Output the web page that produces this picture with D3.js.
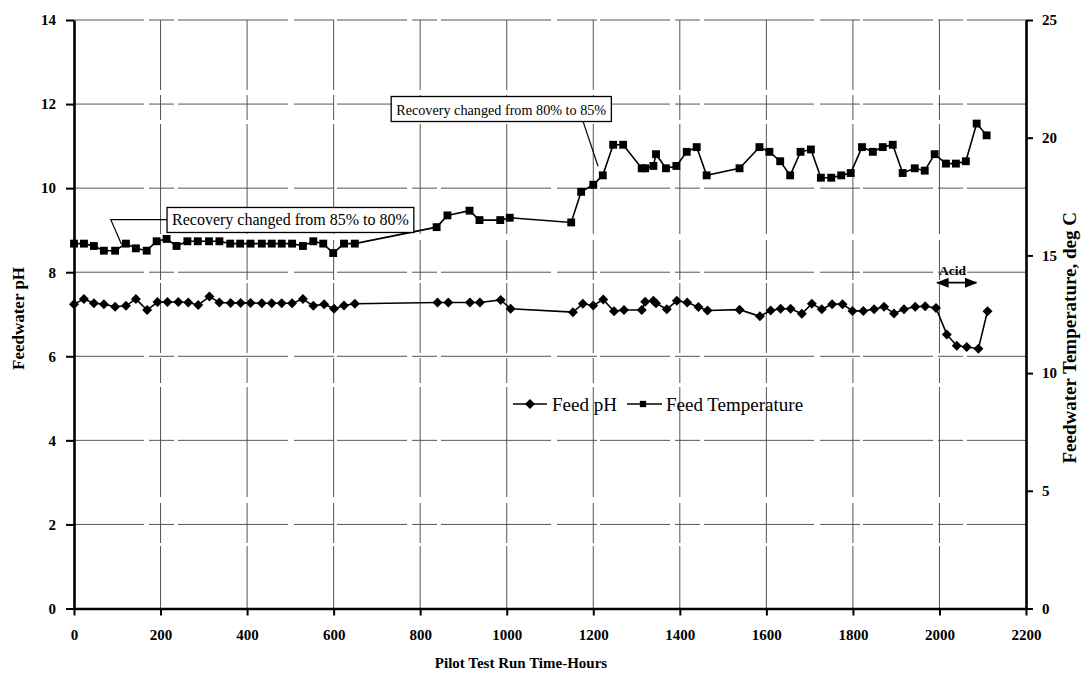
<!DOCTYPE html>
<html>
<head>
<meta charset="utf-8">
<script src="https://cdn.jsdelivr.net/npm/d3@7"></script>
<style>
  body { margin: 0; background: #fff; }
  text { font-family: "Liberation Serif", "Times New Roman", serif; }
</style>
</head>
<body>
<div id="chart"></div>
<script>
// pilot test readings
const phHours = [0, 23, 46, 69, 95, 120, 143, 169, 193, 216, 241, 264, 287, 313, 336, 362, 385, 408, 434, 457,
  480, 504, 529, 553, 578, 601, 624, 649, 840, 865, 915, 938, 986, 1009, 1153, 1176, 1200, 1223, 1248, 1271,
  1312, 1320, 1339, 1345, 1370, 1393, 1417, 1443, 1464, 1538, 1585, 1610, 1633, 1656, 1682, 1705, 1728, 1752,
  1776, 1799, 1824, 1849, 1872, 1895, 1918, 1944, 1967, 1992, 2017, 2040, 2063, 2090, 2111];
const phValues = [7.24, 7.36, 7.26, 7.24, 7.18, 7.20, 7.36, 7.10, 7.29, 7.29, 7.29, 7.28, 7.22, 7.42, 7.28, 7.27,
  7.27, 7.27, 7.26, 7.26, 7.26, 7.26, 7.36, 7.20, 7.24, 7.13, 7.21, 7.25, 7.28, 7.28, 7.28, 7.28, 7.34, 7.13,
  7.05, 7.25, 7.21, 7.35, 7.07, 7.10, 7.10, 7.30, 7.32, 7.26, 7.12, 7.32, 7.28, 7.17, 7.09, 7.11, 6.95, 7.09,
  7.13, 7.13, 7.01, 7.25, 7.12, 7.24, 7.24, 7.08, 7.08, 7.12, 7.18, 7.02, 7.12, 7.18, 7.19, 7.15, 6.52, 6.25,
  6.22, 6.18, 7.07];

const tempHours = [0, 23, 46, 69, 95, 120, 143, 168, 191, 214, 237, 262, 286, 312, 336, 361, 384, 408, 434, 457,
  480, 504, 529, 553, 576, 599, 624, 649, 838, 863, 914, 937, 985, 1007, 1149, 1172, 1200, 1222, 1246, 1269,
  1312, 1320, 1339, 1345, 1368, 1392, 1416, 1439, 1462, 1538, 1584, 1607, 1632, 1655, 1679, 1703, 1726, 1750,
  1773, 1795, 1821, 1846, 1869, 1892, 1915, 1943, 1966, 1989, 2015, 2038, 2061, 2086, 2109];
const tempValues = [15.5, 15.5, 15.4, 15.2, 15.2, 15.5, 15.3, 15.2, 15.6, 15.7, 15.4, 15.6, 15.6, 15.6, 15.6, 15.5,
  15.5, 15.5, 15.5, 15.5, 15.5, 15.5, 15.4, 15.6, 15.5, 15.1, 15.5, 15.5, 16.2, 16.7, 16.9, 16.5, 16.5, 16.6,
  16.4, 17.7, 18.0, 18.4, 19.7, 19.7, 18.7, 18.7, 18.8, 19.3, 18.7, 18.8, 19.4, 19.6, 18.4, 18.7, 19.6, 19.4,
  19.0, 18.4, 19.4, 19.5, 18.3, 18.3, 18.4, 18.5, 19.6, 19.4, 19.6, 19.7, 18.5, 18.7, 18.6, 19.3, 18.9, 18.9,
  19.0, 20.6, 20.1];

const xTicks = d3.range(0, 2201, 200);
const phTicks = d3.range(0, 15, 2);
const tempTicks = d3.range(0, 26, 5);

const W = 1090, H = 682;
const x = d3.scaleLinear().domain([0, 2200]).range([74, 1026]);
const yL = d3.scaleLinear().domain([0, 14]).range([608.5, 20]);
const yR = d3.scaleLinear().domain([0, 25]).range([608.5, 20]);

const svg = d3.select("#chart").append("svg")
  .attr("width", W)
  .attr("height", H);

svg.append("rect").attr("width", W).attr("height", H).attr("fill", "#fff");

// grid - broken thin lines like the photocopy
const grid = svg.append("g")
  .attr("stroke", "#555")
  .attr("stroke-width", 1)
  .attr("stroke-dasharray", "70 5 25 4 110 6 40 3");

grid.selectAll("line.h")
  .data(phTicks.filter(d => d > 0))
  .enter().append("line")
  .attr("x1", x(0)).attr("x2", x(2200))
  .attr("y1", d => yL(d)).attr("y2", d => yL(d));

grid.selectAll("line.v")
  .data(xTicks.filter(d => d > 0 && d < 2200))
  .enter().append("line")
  .attr("x1", d => x(d)).attr("x2", d => x(d))
  .attr("y1", yL(14)).attr("y2", yL(0));

// axes
const axisFont = g => g.selectAll("text")
  .attr("font-family", "Liberation Serif, serif")
  .attr("font-size", 15)
  .attr("font-weight", "bold")
  .attr("fill", "#000");

const axisLines = g => {
  g.select(".domain").attr("stroke-width", 2.6);
  g.selectAll(".tick line").attr("stroke-width", 2);
};

svg.append("g")
  .attr("transform", `translate(0,${yL(0)})`)
  .call(d3.axisBottom(x).tickValues(xTicks).tickFormat(d3.format("d"))
    .tickSize(7).tickSizeOuter(0).tickPadding(14))
  .call(axisFont).call(axisLines);

svg.append("g")
  .attr("transform", `translate(${x(0)},0)`)
  .call(d3.axisLeft(yL).tickValues(phTicks).tickSize(8).tickSizeOuter(0).tickPadding(10))
  .call(axisFont).call(axisLines);

svg.append("g")
  .attr("transform", `translate(${x(2200)},0)`)
  .call(d3.axisRight(yR).tickValues(tempTicks).tickSize(7).tickSizeOuter(0).tickPadding(9))
  .call(axisFont).call(axisLines);

// axis titles
svg.append("text")
  .attr("x", 521).attr("y", 668)
  .attr("text-anchor", "middle")
  .attr("font-size", 15).attr("font-weight", "bold")
  .text("Pilot Test Run Time-Hours");

svg.append("text")
  .attr("transform", `translate(24,${yL(6.9)}) rotate(-90)`)
  .attr("text-anchor", "middle")
  .attr("font-size", 17).attr("font-weight", "bold")
  .text("Feedwater pH");

svg.append("text")
  .attr("transform", `translate(1076,${yR(11.5)}) rotate(-90)`)
  .attr("text-anchor", "middle")
  .attr("font-size", 19).attr("font-weight", "bold")
  .text("Feedwater Temperature, deg C");

// series
const phData = phHours.map((h, i) => ({ h, v: phValues[i] }));
const tempData = tempHours.map((h, i) => ({ h, v: tempValues[i] }));

const diamond = d3.symbol().type(d3.symbolSquare).size(50);
const square = d3.symbol().type(d3.symbolSquare).size(62);

svg.append("path")
  .datum(tempData)
  .attr("fill", "none").attr("stroke", "#000").attr("stroke-width", 1.6)
  .attr("d", d3.line().x(d => x(d.h)).y(d => yR(d.v)));

svg.append("path")
  .datum(phData)
  .attr("fill", "none").attr("stroke", "#000").attr("stroke-width", 1.6)
  .attr("d", d3.line().x(d => x(d.h)).y(d => yL(d.v)));

// annotation boxes cover the line (white fill), leaders point at the readings
function callout(boxH, boxPh, label, fontSize, leader) {
  svg.append("path")
    .attr("fill", "none").attr("stroke", "#000").attr("stroke-width", 1.2)
    .attr("d", d3.line()(leader.map(p => [x(p[0]), yL(p[1])])));
  const g = svg.append("g");
  const rect = g.append("rect").attr("fill", "#fff").attr("stroke", "#000").attr("stroke-width", 1.3);
  const t = g.append("text")
    .attr("x", x(boxH) + 5).attr("y", yL(boxPh) + 18)
    .attr("font-size", fontSize)
    .text(label);
  const bb = t.node().getBBox();
  rect.attr("x", x(boxH)).attr("y", yL(boxPh))
    .attr("width", bb.width + 10).attr("height", 25);
}

callout(215, 9.54, "Recovery changed from 85% to 80%", 16, [[110, 8.66], [85, 9.25], [215, 9.25]]);
callout(733, 12.18, "Recovery changed from 80% to 85%", 14.2, [[1176, 11.6], [1211, 10.52]]);

svg.selectAll("path.ph")
  .data(phData)
  .enter().append("path")
  .attr("class", "ph")
  .attr("d", diamond)
  .attr("transform", d => `translate(${x(d.h)},${yL(d.v)}) rotate(45)`)
  .attr("fill", "#000");

svg.selectAll("path.temp")
  .data(tempData)
  .enter().append("path")
  .attr("class", "temp")
  .attr("d", square)
  .attr("transform", d => `translate(${x(d.h)},${yR(d.v)})`)
  .attr("fill", "#000");

// acid dosing arrow
const defs = svg.append("defs");
defs.append("marker")
  .attr("id", "ah")
  .attr("viewBox", "0 0 10 10")
  .attr("refX", 9).attr("refY", 5)
  .attr("markerWidth", 7).attr("markerHeight", 7)
  .attr("orient", "auto-start-reverse")
  .append("path").attr("d", "M0,1 L10,5 L0,9 z").attr("fill", "#000");

svg.append("line")
  .attr("x1", x(1995)).attr("x2", x(2085))
  .attr("y1", yL(7.75)).attr("y2", yL(7.75))
  .attr("stroke", "#000").attr("stroke-width", 1.8)
  .attr("marker-start", "url(#ah)").attr("marker-end", "url(#ah)");

svg.append("text")
  .attr("x", x(2030)).attr("y", yL(7.93))
  .attr("text-anchor", "middle")
  .attr("font-size", 13.5).attr("font-weight", "bold")
  .text("Acid");

// legend
const leg = svg.append("g").attr("transform", "translate(0,404)");
leg.append("line").attr("x1", 513).attr("x2", 547).attr("stroke", "#000").attr("stroke-width", 1.6);
leg.append("path").attr("d", diamond).attr("transform", "translate(530,0) rotate(45)");
leg.append("text").attr("x", 552).attr("y", 6.5).attr("font-size", 19).text("Feed pH");
leg.append("line").attr("x1", 627).attr("x2", 662).attr("stroke", "#000").attr("stroke-width", 1.6);
leg.append("path").attr("d", d3.symbol().type(d3.symbolSquare).size(40)).attr("transform", "translate(643,0)");
leg.append("text").attr("x", 666).attr("y", 6.5).attr("font-size", 19).text("Feed Temperature");
</script>
</body>
</html>
